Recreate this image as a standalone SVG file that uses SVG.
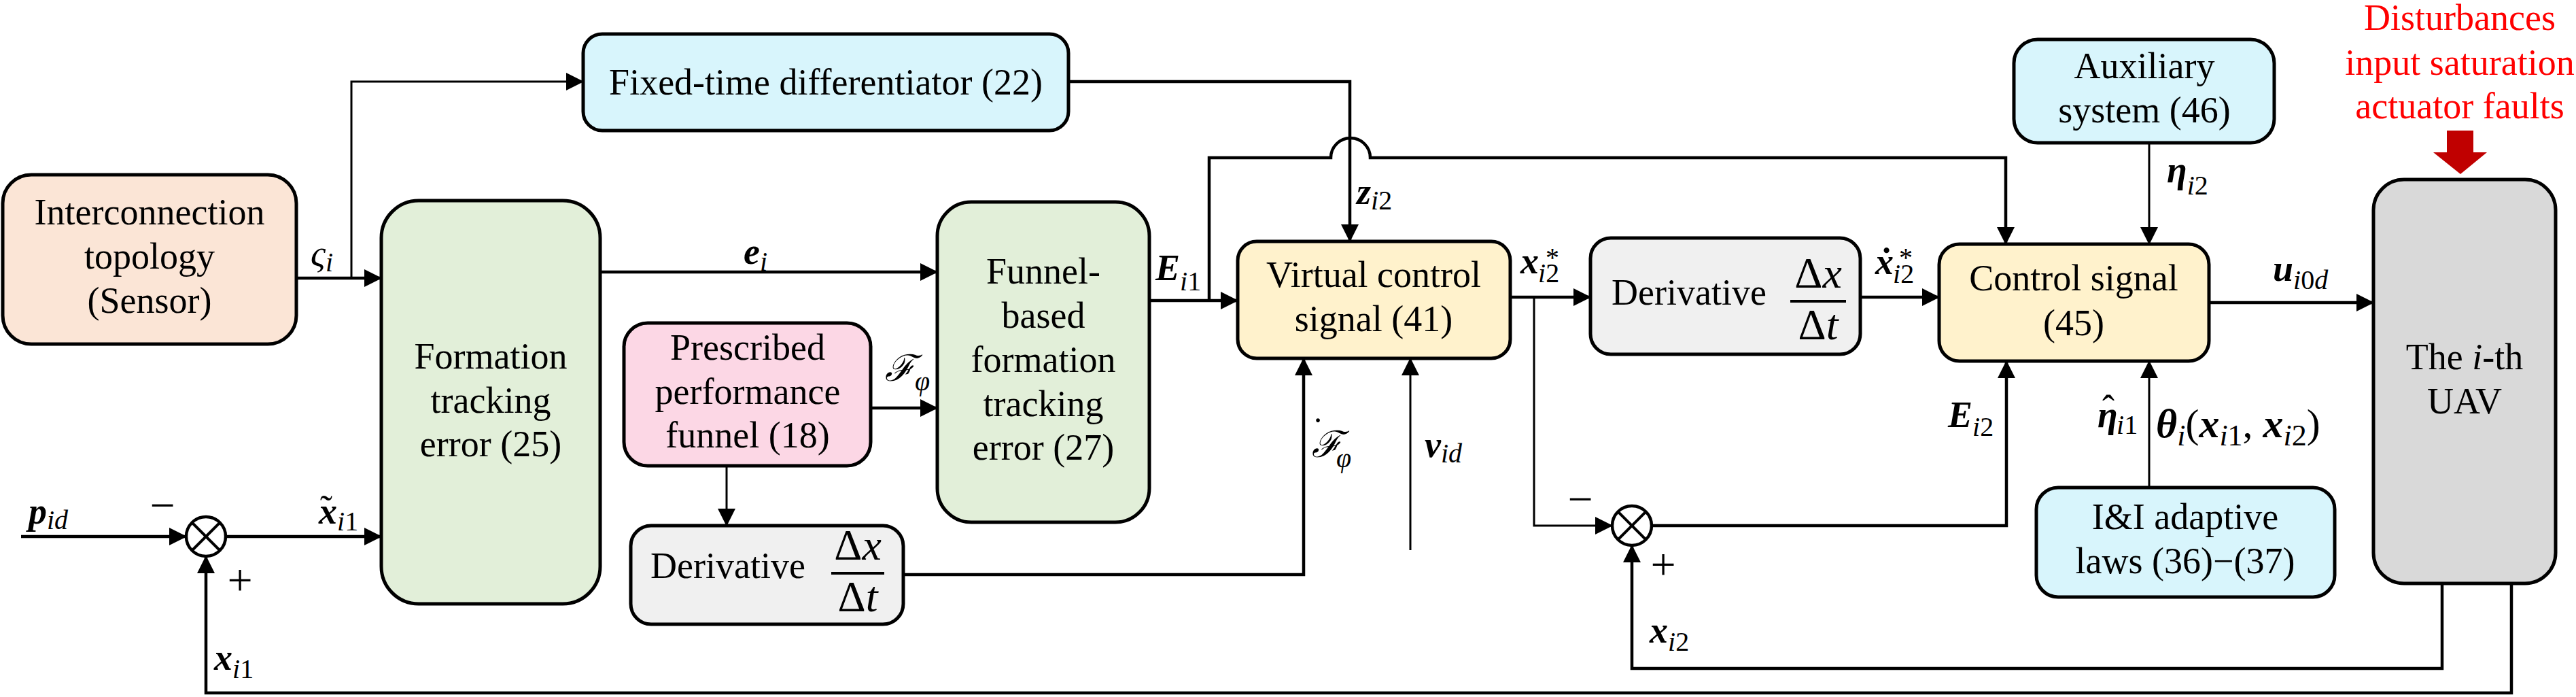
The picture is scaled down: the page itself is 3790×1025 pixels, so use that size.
<svg xmlns="http://www.w3.org/2000/svg" width="3790" height="1025" viewBox="0 0 3790 1025">
<style>
text{font-family:'Liberation Serif','Times New Roman','DejaVu Serif',serif;font-size:54px;fill:#000}
.c{text-anchor:middle}
.bi{font-weight:bold;font-style:italic}
.it{font-style:italic}
.sb{font-size:40px}
.f{font-size:64px}
.pm{font-size:66px}
.red{fill:#ff0000}
.box{stroke:#000;stroke-width:5}
.ln{fill:none;stroke:#000;stroke-width:4.5}
.th{fill:none;stroke:#000;stroke-width:3}
</style>
<defs>
<marker id="ah" markerUnits="userSpaceOnUse" viewBox="0 0 26 26" markerWidth="26" markerHeight="26" refX="25" refY="13" orient="auto">
<path d="M0,0 L26,13 L0,26 Z" fill="#000"/>
</marker>
</defs>
<rect width="3790" height="1025" fill="#fff"/>

<g id="connectors">
<path class="ln" d="M438,409 H561" marker-end="url(#ah)"/>
<path class="th" d="M517,409 V120 H858" marker-end="url(#ah)"/>
<path class="ln" d="M1572,120 H1986 V355" marker-end="url(#ah)"/>
<path class="ln" d="M883,400 H1379" marker-end="url(#ah)"/>
<path class="ln" d="M1281,600 H1379" marker-end="url(#ah)"/>
<path class="th" d="M1069,685 V773" marker-end="url(#ah)"/>
<path class="ln" d="M1329,845 H1918 V527" marker-end="url(#ah)"/>
<path class="th" d="M2075,809 V527" marker-end="url(#ah)"/>
<path class="ln" d="M1691,442 H1821" marker-end="url(#ah)"/>
<path class="ln" d="M1779,442 V232 H1958 A29,29 0 0 1 2016,232 H2951 V359" marker-end="url(#ah)"/>
<path class="ln" d="M2222,437 H2340" marker-end="url(#ah)"/>
<path class="th" d="M2257,437 V773 H2372" marker-end="url(#ah)"/>
<path class="ln" d="M2430,773 H2952 V531" marker-end="url(#ah)"/>
<path class="ln" d="M2737,437 H2853" marker-end="url(#ah)"/>
<path class="th" d="M3162,210 V359" marker-end="url(#ah)"/>
<path class="th" d="M3162,717 V531" marker-end="url(#ah)"/>
<path class="ln" d="M3250,445 H3492" marker-end="url(#ah)"/>
<path class="ln" d="M3593,858 V983 H2401 V802" marker-end="url(#ah)"/>
<path class="ln" d="M3695,858 V1019 H303 V818" marker-end="url(#ah)"/>
<path class="ln" d="M31,789 H274" marker-end="url(#ah)"/>
<path class="ln" d="M332,789 H561" marker-end="url(#ah)"/>

<text class="it" x="457" y="391">ς<tspan class="sb" dy="8">i</tspan></text>
<text x="1094" y="388"><tspan class="bi">e</tspan><tspan class="sb it" dy="10">i</tspan></text>
<text x="1700" y="412"><tspan class="bi">E</tspan><tspan class="sb" dy="15"><tspan class="it">i</tspan>1</tspan></text>
<text x="1996" y="300"><tspan class="bi">z</tspan><tspan class="sb" dy="8"><tspan class="it">i</tspan>2</tspan></text>
<text x="2237" y="402"><tspan class="bi">x</tspan><tspan class="sb" x="2274" y="392">*</tspan><tspan class="sb" x="2263" y="415"><tspan class="it">i</tspan>2</tspan></text>
<text x="2759" y="403"><tspan class="bi">ẋ</tspan><tspan class="sb" x="2794" y="392">*</tspan><tspan class="sb" x="2785" y="416"><tspan class="it">i</tspan>2</tspan></text>
<text x="3344" y="413"><tspan class="bi">u</tspan><tspan class="sb" dy="12"><tspan class="it">i</tspan>0<tspan class="it">d</tspan></tspan></text>
<text x="3188" y="268"><tspan class="bi">η</tspan><tspan class="sb" dy="18"><tspan class="it">i</tspan>2</tspan></text>
<text x="2866" y="628"><tspan class="bi">E</tspan><tspan class="sb" dy="13"><tspan class="it">i</tspan>2</tspan></text>
<text x="3086" y="628"><tspan class="bi">η</tspan><tspan x="3093" y="619">ˆ</tspan><tspan class="sb" x="3114" y="638"><tspan class="it">i</tspan>1</tspan></text>
<text x="3172" y="643" style="font-size:60px"><tspan class="bi">θ</tspan><tspan style="font-size:44px;font-style:italic" dy="12">i</tspan><tspan dy="-12">(</tspan><tspan class="bi">x</tspan><tspan style="font-size:44px" dy="12"><tspan class="it">i</tspan>1</tspan><tspan dy="-12">, </tspan><tspan class="bi">x</tspan><tspan style="font-size:44px" dy="12"><tspan class="it">i</tspan>2</tspan><tspan dy="-12">)</tspan></text>
<text x="1302" y="560"><tspan class="it">ℱ</tspan><tspan class="sb it" dy="14">φ</tspan></text>
<text x="1930" y="672"><tspan class="it">ℱ</tspan><tspan x="1930" y="652">˙</tspan><tspan class="sb it" x="1966" y="687">φ</tspan></text>
<text x="2096" y="672"><tspan class="bi">v</tspan><tspan class="sb it" dy="8">id</tspan></text>
<text x="469" y="770"><tspan class="bi">x</tspan><tspan x="471" y="766">˜</tspan><tspan class="sb" x="496" y="780"><tspan class="it">i</tspan>1</tspan></text>
<text x="42" y="770"><tspan class="bi">p</tspan><tspan class="sb it" dy="8">id</tspan></text>
<text x="315" y="985"><tspan class="bi">x</tspan><tspan class="sb" dy="12"><tspan class="it">i</tspan>1</tspan></text>
<text x="2427" y="945"><tspan class="bi">x</tspan><tspan class="sb" dy="12"><tspan class="it">i</tspan>2</tspan></text>
<text class="c pm" x="239" y="765">−</text>
<text class="c pm" x="353" y="875">+</text>
<text class="c pm" x="2325" y="756">−</text>
<text class="c pm" x="2447" y="852">+</text>
</g>

<g id="interconnection">
<rect class="box" x="4" y="257" width="432" height="249" rx="42" fill="#fbe5d6"/>
<text class="c" x="220" y="330">Interconnection</text>
<text class="c" x="220" y="395">topology</text>
<text class="c" x="220" y="460">(Sensor)</text>
</g>

<g id="differentiator">
<rect class="box" x="858" y="50" width="714" height="142" rx="28" fill="#d8f5fc"/>
<text class="c" x="1215" y="139">Fixed-time differentiator (22)</text>
</g>

<g id="formation-error">
<rect class="box" x="561" y="295" width="322" height="593" rx="55" fill="#e2efd9"/>
<text class="c" x="722" y="542">Formation</text>
<text class="c" x="722" y="607">tracking</text>
<text class="c" x="722" y="671">error (25)</text>
</g>

<g id="prescribed-funnel">
<rect class="box" x="918" y="475" width="363" height="210" rx="35" fill="#fcd7e5"/>
<text class="c" x="1100" y="529">Prescribed</text>
<text class="c" x="1100" y="594">performance</text>
<text class="c" x="1100" y="658">funnel (18)</text>
</g>

<g id="derivative-1">
<rect class="box" x="928" y="773" width="401" height="145" rx="30" fill="#f0f0f0"/>
<text x="957" y="850">Derivative</text>
<text class="c f" x="1262" y="823">Δ<tspan class="it">x</tspan></text>
<line x1="1223" y1="843" x2="1301" y2="843" stroke="#000" stroke-width="4"/>
<text class="c f" x="1262" y="899">Δ<tspan class="it">t</tspan></text>
</g>

<g id="funnel-error">
<rect class="box" x="1379" y="297" width="312" height="471" rx="50" fill="#e2efd9"/>
<text class="c" x="1535" y="417">Funnel-</text>
<text class="c" x="1535" y="482">based</text>
<text class="c" x="1535" y="547">formation</text>
<text class="c" x="1535" y="612">tracking</text>
<text class="c" x="1535" y="676">error (27)</text>
</g>

<g id="virtual-control">
<rect class="box" x="1821" y="355" width="401" height="172" rx="28" fill="#fff2cc"/>
<text class="c" x="2021" y="422">Virtual control</text>
<text class="c" x="2021" y="487">signal (41)</text>
</g>

<g id="derivative-2">
<rect class="box" x="2340" y="350" width="397" height="171" rx="30" fill="#f0f0f0"/>
<text x="2371" y="448">Derivative</text>
<text class="c f" x="2675" y="423">Δ<tspan class="it">x</tspan></text>
<line x1="2634" y1="443" x2="2716" y2="443" stroke="#000" stroke-width="4"/>
<text class="c f" x="2675" y="499">Δ<tspan class="it">t</tspan></text>
</g>

<g id="auxiliary">
<rect class="box" x="2963" y="58" width="383" height="152" rx="35" fill="#d8f5fc"/>
<text class="c" x="3155" y="115">Auxiliary</text>
<text class="c" x="3155" y="180">system (46)</text>
</g>

<g id="control-signal">
<rect class="box" x="2853" y="359" width="397" height="172" rx="30" fill="#fff2cc"/>
<text class="c" x="3051" y="427">Control signal</text>
<text class="c" x="3051" y="493">(45)</text>
</g>

<g id="adaptive-laws">
<rect class="box" x="2996" y="717" width="439" height="161" rx="32" fill="#d8f5fc"/>
<text class="c" x="3215" y="778">I&amp;I adaptive</text>
<text class="c" x="3215" y="843">laws (36)−(37)</text>
</g>

<g id="uav">
<rect class="box" x="3492" y="264" width="268" height="594" rx="45" fill="#d9d9d9"/>
<text class="c" x="3626" y="543">The <tspan class="it">i</tspan>-th</text>
<text class="c" x="3626" y="608">UAV</text>
</g>

<g id="junction-1">
<circle cx="303" cy="789" r="29" fill="#fff" stroke="#000" stroke-width="4.5"/>
<path d="M282.5,768.5 L323.5,809.5 M323.5,768.5 L282.5,809.5" stroke="#000" stroke-width="4"/>
</g>

<g id="junction-2">
<circle cx="2401" cy="773" r="29" fill="#fff" stroke="#000" stroke-width="4.5"/>
<path d="M2380.5,752.5 L2421.5,793.5 M2421.5,752.5 L2380.5,793.5" stroke="#000" stroke-width="4"/>
</g>

<g id="disturbances">
<text class="c red" x="3619" y="44">Disturbances</text>
<text class="c red" x="3619" y="110">input saturation</text>
<text class="c red" x="3619" y="174">actuator faults</text>
<polygon points="3600,192 3639,192 3639,224 3659,224 3620,256 3580,224 3600,224" fill="#c00000"/>
</g>
</svg>
